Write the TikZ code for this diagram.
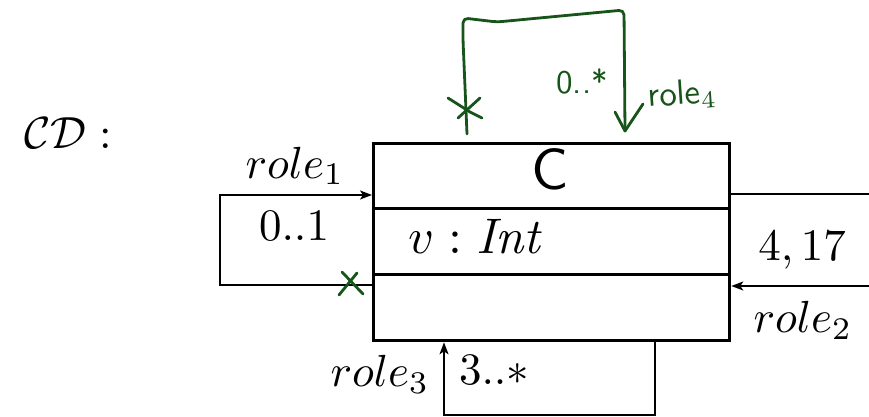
\documentclass[tikz,border=0pt]{standalone}
\usetikzlibrary{arrows.meta}
\definecolor{ink}{RGB}{22,84,26}
\begin{document}
\begin{tikzpicture}[x=1pt,y=-1pt,
  comp/.style={draw, line width=3.3pt, minimum width=356pt, inner sep=0pt, anchor=north west},
  assoc/.style={line width=1.8pt},
  tip/.style={-{Stealth[length=12pt,width=9pt,inset=3pt]}},
  lbl/.style={inner sep=0pt, scale=4.5},
  hand/.style={draw=ink, line width=2.8pt, line cap=round, line join=round},
  handtxt/.style={text=ink, inner sep=0pt, font=\sffamily}
]
\useasboundingbox (0,0) rectangle (869,417);

% class box
\node[comp, minimum height=65pt] (ctop) at (372,142) {};
\node[comp, minimum height=66pt] (cmid) at (372,207) {};
\node[comp, minimum height=66pt] (cbot) at (372,273) {};
\node[inner sep=0pt, scale=5.8, font=\sffamily] (cname) at (550,169) {C};
\node[inner sep=0pt, scale=5.0] (attr) at (477,236) {$v : \mathit{Int}$};

\node[lbl] (cd) at (68,133) {$\mathcal{CD}:$};

% left self-association (role1, 0..1)
\coordinate (l1) at (220,195);
\coordinate (l2) at (220,285);
\draw[assoc,tip] (l2 -| cbot.west) -- (l2) -- (l1) -- (l1 -| ctop.west);
\node[lbl] (role1) at (295,166) {$role_1$};
\node[lbl] (m1) at (294,226) {$0..1$};

% right self-association (role2, 4,17)
\coordinate (r1) at (869,194);
\coordinate (r2) at (869,286);
\draw[line width=1.5pt] (ctop.east |- r1) -- (r1);
\draw[assoc,tip] (r2) -- (r2 -| cbot.east);
\node[lbl] (m2) at (802,250) {$4,17$};
\node[lbl] (role2) at (803,320) {$role_2$};

% bottom self-association (role3, 3..*)
\coordinate (b1) at (655,415);
\coordinate (b2) at (444,415);
\draw[assoc,tip] (b1 |- cbot.south) -- (b1) -- (b2) -- (b2 |- cbot.south);
\node[lbl] (role3) at (380,374) {$role_3$};
\node[lbl] (m3) at (494,370) {$3..*$};

% green hand-drawn self-association (role4, 0..*)
\coordinate (g0) at (467,134);
\coordinate (g1) at (463,18);
\coordinate (g2) at (624,10);
\coordinate (g3) at (625,131);
\draw[hand, rounded corners=5pt] (g0) -- (463,40) -- (g1) -- (497,22) -- (g2) -- (g3);
\draw[hand] (615,112) -- (g3) -- (643,104);
\draw[hand] (448,98) -- (470,112) -- (482,118);
\draw[hand] (480,98) -- (458,118);
\node[handtxt, scale=3.3] (m4) at (582,81) {0..*};
\node[handtxt, scale=3.5, rotate=4] (role4) at (682,95) {role$_4$};

% green cross on left association end
\draw[hand] (342,272) -- (363,294);
\draw[hand] (357,273) -- (339,295);
\end{tikzpicture}
\end{document}
